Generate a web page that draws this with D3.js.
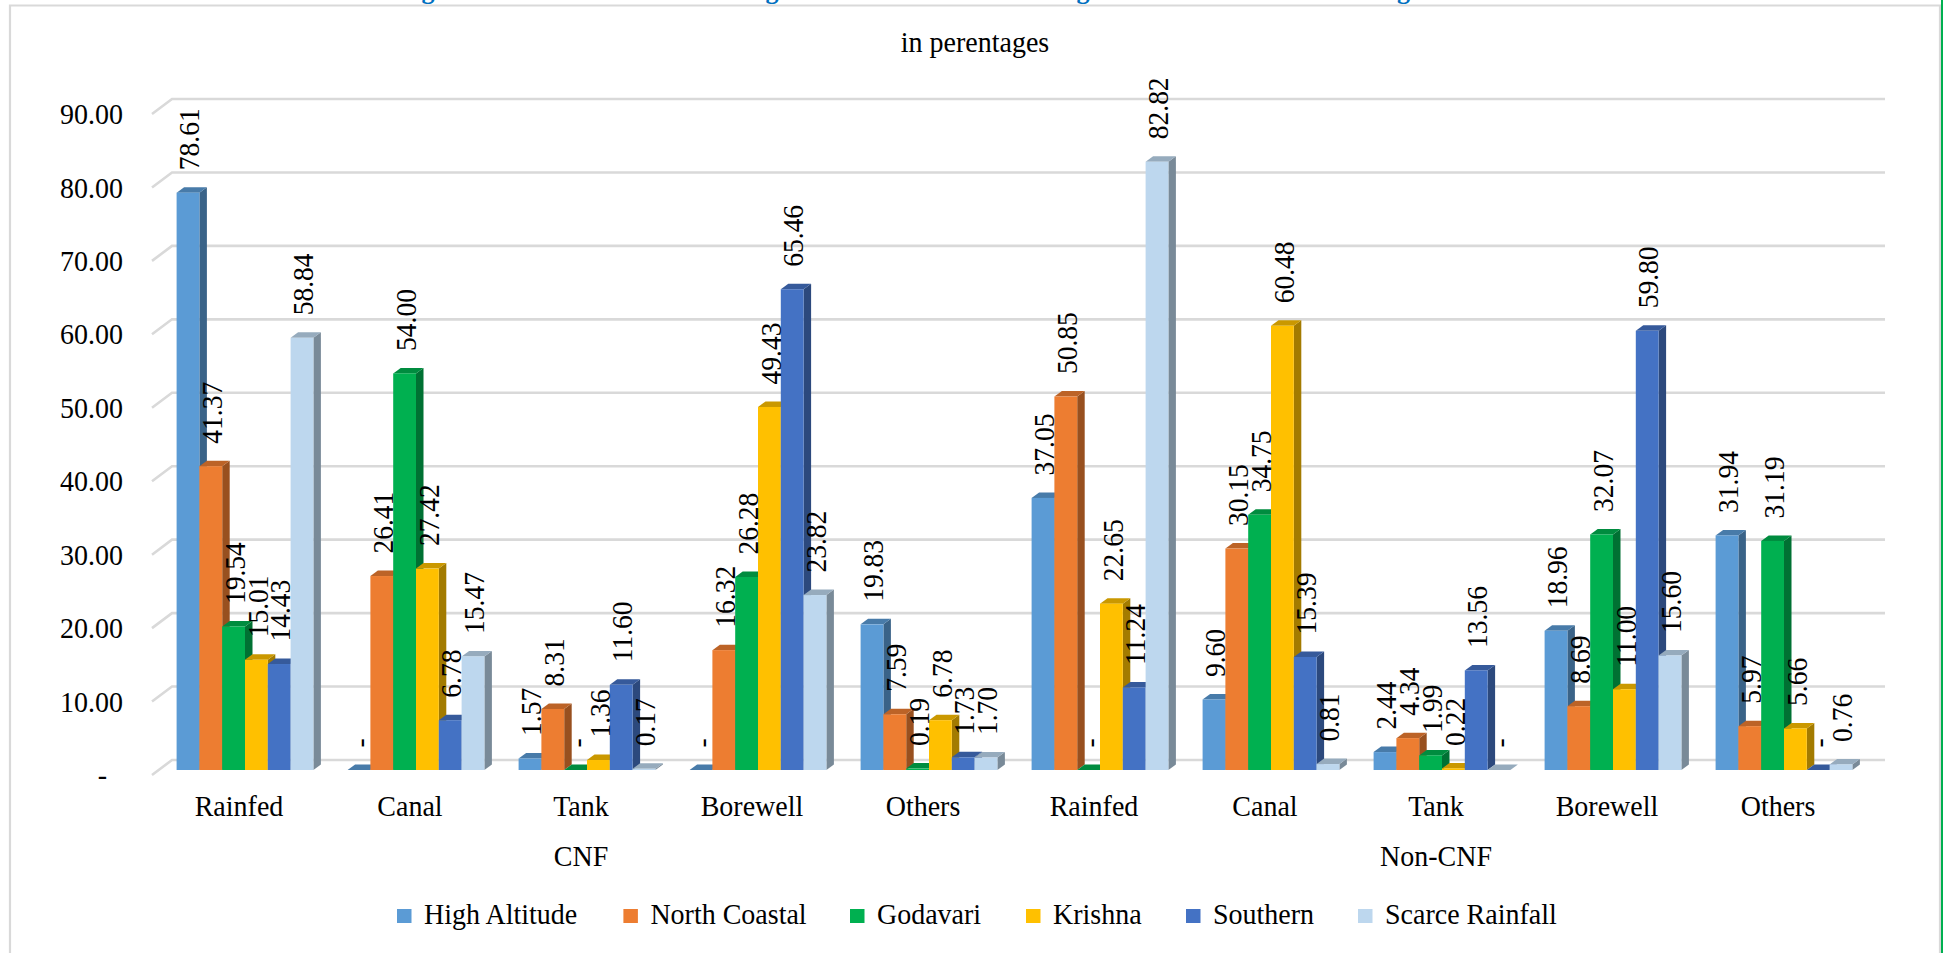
<!DOCTYPE html>
<html>
<head>
<meta charset="utf-8">
<script src="https://cdnjs.cloudflare.com/ajax/libs/d3/7.8.5/d3.min.js"></script>
<style>
html,body{margin:0;padding:0;background:#fff;overflow:hidden}
svg{display:block}
text{font-family:"Liberation Serif","Times New Roman",serif;fill:#000}
</style>
</head>
<body>
<div id="chart"></div>
<script>
const categories = ["Rainfed","Canal","Tank","Borewell","Others","Rainfed","Canal","Tank","Borewell","Others"];
const groupLabels = [{name:"CNF", at:2},{name:"Non-CNF", at:7}];
const seriesNames = ["High Altitude","North Coastal","Godavari","Krishna","Southern","Scarce Rainfall"];
const highAltitude  = [78.61,0,1.57,0,19.83,37.05,9.60,2.44,18.96,31.94];
const northCoastal  = [41.37,26.41,8.31,16.32,7.59,50.85,30.15,4.34,8.69,5.97];
const godavari      = [19.54,54.00,0,26.28,0.19,0,34.75,1.99,32.07,31.19];
const krishna       = [15.01,27.42,1.36,49.43,6.78,22.65,60.48,0.22,11.00,5.66];
const southern      = [14.43,6.78,11.60,65.46,1.73,11.24,15.39,13.56,59.80,0];
const scarceRainfall= [58.84,15.47,0.17,23.82,1.70,82.82,0.81,0,15.60,0.76];
const seriesValues = [highAltitude,northCoastal,godavari,krishna,southern,scarceRainfall];
const colors = ["#5B9BD5","#ED7D31","#00B050","#FFC000","#4472C4","#BDD7EE"];
const yTicks = [0,10,20,30,40,50,60,70,80,90];
const subtitle = "in perentages";
const clippedTitleGlyphs = [{t:"g",x:428},{t:"g",x:772},{t:"g",x:1083},{t:"g",x:1403.5}];
const legendSwatchX = [397,623.4,850,1026,1186,1358];

const W=1945,H=953,FS=28,STRETCH=1.07;
const svg=d3.select("#chart").append("svg").attr("width",W).attr("height",H);
const hText=(x,y)=>`translate(${x},${y}) scale(1,${STRETCH})`;

// frame
svg.append("path").attr("d",`M10,${H}V5.5H1940V${H}`).attr("fill","none").attr("stroke","#d9d9d9").attr("stroke-width",2.2);
svg.append("line").attr("x1",1942).attr("x2",1942).attr("y1",0).attr("y2",H).attr("stroke","#00B050").attr("stroke-width",2);

// clipped title
svg.selectAll(".tg").data(clippedTitleGlyphs).join("text").attr("class","tg")
  .attr("x",d=>d.x).attr("y",-1.5).attr("text-anchor","middle")
  .style("fill","#0070C0").attr("font-weight","bold").attr("font-size",26).text(d=>d.t);

svg.append("text").attr("transform",hText(975,52)).attr("text-anchor","middle").attr("font-size",FS).text(subtitle);

const y=d3.scaleLinear().domain([0,90]).range([760,99]);
const x0=d3.scaleBand().domain(d3.range(categories.length)).range([159.5,1869.5]).paddingInner(0.2).paddingOuter(0.1);
const x1=d3.scaleBand().domain(d3.range(seriesNames.length)).range([0,x0.bandwidth()]);

const wallL=172,wallR=1885,tickDx=20,tickDy=15;
const barDy=10, sideX=7.5, sideY=5.5;

// gridlines
const grid=svg.append("g");
grid.selectAll("path").data(yTicks).join("path")
  .attr("d",v=>`M${wallL-tickDx},${y(v)+tickDy}L${wallL},${y(v)}H${wallR}`)
  .attr("fill","none").attr("stroke","#d9d9d9").attr("stroke-width",2.6);

// y axis
const axis=d3.axisLeft(y).tickValues(yTicks).tickSize(0).tickPadding(0)
  .tickFormat(v=>v===0?"-":d3.format(".2f")(v));
const ax=svg.append("g").attr("transform",`translate(123,${tickDy})`).call(axis);
ax.select(".domain").remove();
ax.selectAll("text").attr("font-size",FS).attr("font-family",null).style("fill","#000")
  .attr("transform",`scale(1,${STRETCH})`);
ax.selectAll(".tick").filter(v=>v===0).select("text").attr("x",-16);

// bars
const shade=(c,k)=>d3.rgb(c).darker(k).formatHex();
const bars=svg.append("g");
categories.forEach((cat,g)=>{
  seriesValues.forEach((vals,s)=>{
    const v=vals[g];
    const bx=x0(g)+x1(s), bw=x1.bandwidth();
    const top=y(v)+barDy, base=y(0)+barDy;
    const gb=bars.append("g");
    gb.append("path").attr("fill",shade(colors[s],1.25))
      .attr("d",`M${bx+bw},${top}l${sideX},${-sideY}V${base-sideY}l${-sideX},${sideY}Z`);
    gb.append("path").attr("fill",shade(colors[s],0.65))
      .attr("d",`M${bx},${top}l${sideX},${-sideY}h${bw}l${-sideX},${sideY}Z`);
    if(v>0) gb.append("rect").attr("x",bx).attr("y",top).attr("width",bw).attr("height",base-top).attr("fill",colors[s]);
  });
});

// data labels
const labels=svg.append("g");
categories.forEach((cat,g)=>{
  seriesValues.forEach((vals,s)=>{
    const v=vals[g];
    const lx=x0(g)+x1(s)+22.5, ly=y(v)+barDy-22.5;
    labels.append("text").attr("transform",`translate(${lx},${ly}) rotate(-90) scale(1,1.08)`)
      .attr("font-size",27.5).text(v===0?"-":d3.format(".2f")(v));
  });
});

// category labels
svg.selectAll(".cat").data(categories).join("text").attr("class","cat")
  .attr("transform",(d,i)=>hText(x0(i)+x0.bandwidth()/2-6,816))
  .attr("text-anchor","middle").attr("font-size",FS).text(d=>d);
svg.selectAll(".grp").data(groupLabels).join("text").attr("class","grp")
  .attr("transform",d=>hText(x0(d.at)+x0.bandwidth()/2-6,866))
  .attr("text-anchor","middle").attr("font-size",FS).text(d=>d.name);

// legend
const leg=svg.selectAll(".leg").data(seriesNames).join("g").attr("class","leg")
  .attr("transform",(d,i)=>`translate(${legendSwatchX[i]},0)`);
leg.append("rect").attr("y",909).attr("width",14.5).attr("height",14).attr("fill",(d,i)=>colors[i]);
leg.append("text").attr("transform",hText(27,924)).attr("font-size",FS).text(d=>d);
</script>
</body>
</html>
